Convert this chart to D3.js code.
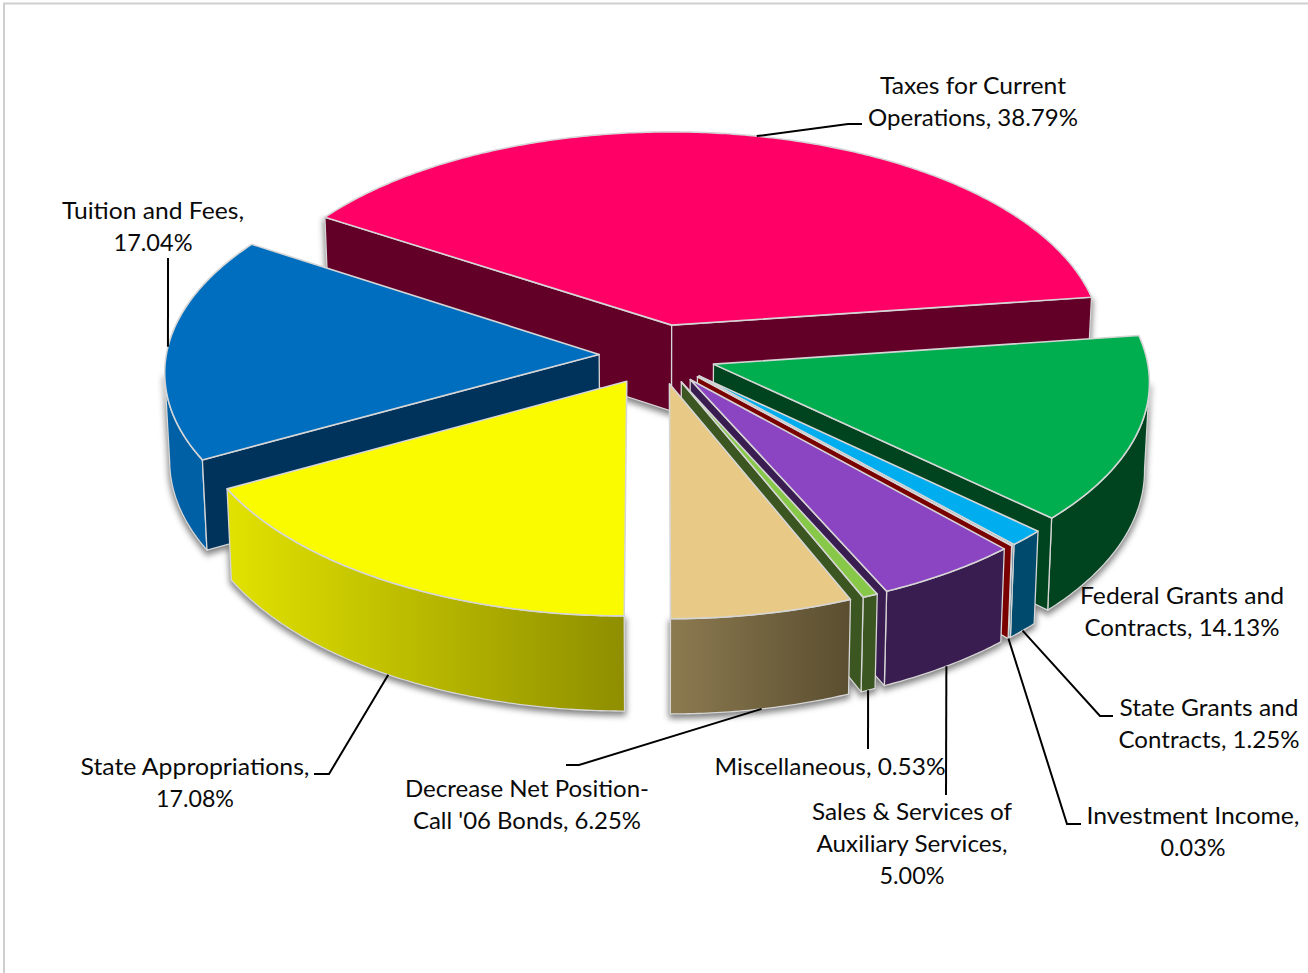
<!DOCTYPE html>
<html>
<head>
<meta charset="utf-8">
<script src="https://cdn.jsdelivr.net/npm/d3@7/dist/d3.min.js"></script>
<style>
  html, body { margin: 0; padding: 0; background: #fff; overflow: hidden; }
  svg { display: block; }
  text { font-family: Lato, "Open Sans", sans-serif; font-size: 24px; fill: #0a0a0a; }
</style>
</head>
<body>
<svg id="chart" width="1308" height="973"></svg>
<script>
// Revenue sources, clockwise from the back-left edge of the pie
const categories = ["Taxes for Current Operations", "Federal Grants and Contracts", "State Grants and Contracts",
  "Investment Income", "Sales & Services of Auxiliary Services", "Miscellaneous",
  "Decrease Net Position-Call '06 Bonds", "State Appropriations", "Tuition and Fees"];
const shares = [38.79, 14.13, 1.25, 0.03, 5.00, 0.53, 6.25, 17.08, 17.04];

const labelLines = [
  ["Taxes for Current", "Operations, 38.79%"],
  ["Federal Grants and", "Contracts, 14.13%"],
  ["State Grants and", "Contracts, 1.25%"],
  ["Investment Income,", "0.03%"],
  ["Sales & Services of", "Auxiliary Services,", "5.00%"],
  ["Miscellaneous, 0.53%"],
  ["Decrease Net Position-", "Call '06 Bonds, 6.25%"],
  ["State Appropriations,", "17.08%"],
  ["Tuition and Fees,", "17.04%"]
];
const labelCentres = [[973, 94], [1182, 604], [1209, 716], [1193, 824], [912, 820], [830, 775], [527, 797], [195, 775], [153, 219]];
const labelWidths = [[186, 210], [204, 195], [179, 181], [213, 65], [200, 191, 65], [231], [244, 228], [229, 78], [182, 79]];

// Leader routes: intermediate bends from the slice edge to its label
const leaderBends = [
  [[848, 124], [862, 124]],
  null,
  [[1100, 716], [1113, 716]],
  [[1067, 824], [1081, 824]],
  [[946, 795]],
  [[868, 749]],
  [[579, 765], [566, 765]],
  [[329, 774], [314, 774]],
  [[168, 258]]
];

const topColors  = ["#FF0066", "#00AE50", "#00AEEF", "#C00000", "#8B44C2", "#88C848", "#E8C985", "#FBFB00", "#006EBE"];
const wallColors = ["#620028", "#00441F", "#004A6E", "#7A0000", "#3A1D50", "#3B5620", "#5A4E30", "#8F8F00", "#00335C"];
const rimColors  = ["#620028", "#00441F", "#004A6E", "#7A0000", "#3A1D50", "#3B5620", null, null, "#0060A6"];
const rimGradients = { 6: ["#8C7A50", "#5A4E30"], 7: ["#E2E200", "#8E8E00"] };
const paintOrder = [0, 8, 1, 2, 3, 4, 5, 6, 7];

// Camera model for the tilted disc; each slice is pulled out along its own middle direction
const centreX = 658, centreY = 355.5, radiusX = 433, radiusY = 212.5;
const perspective = 0.0765, depth = 87, taper = 0.99;
const explodes = [0.148, 0.134, 0.134, 0.134, 0.134, 0.134, 0.134, 0.14, 0.136];

const xScale = d3.scaleLinear().domain([0, 1]).range([0, radiusX]);
const yScale = d3.scaleLinear().domain([0, 1]).range([0, radiusY]);

function project(wx, wy) {
  const s = 1 / (1 - perspective * wy);
  return { x: centreX + xScale(wx) * s, y: centreY + yScale(wy) * s, s };
}
const lower = p => [centreX + (p.x - centreX) * taper, p.y + depth * p.s];
const upper = p => [p.x, p.y];

const TAU = Math.PI * 2;
const firstAngle = -57.3 * Math.PI / 180;
const arcs = d3.pie().sort(null).value(d => d).startAngle(firstAngle).endAngle(firstAngle + TAU)(shares);

const svg = d3.select("#chart");
const defs = svg.append("defs");
defs.append("filter").attr("id", "softShadow")
  .attr("x", "-10%").attr("y", "-10%").attr("width", "120%").attr("height", "120%")
  .append("feGaussianBlur").attr("stdDeviation", 3.2);

Object.entries(rimGradients).forEach(([i, stops]) => {
  const g = defs.append("linearGradient").attr("id", "rim" + i);
  g.append("stop").attr("offset", "0%").attr("stop-color", stops[0]);
  g.append("stop").attr("offset", "100%").attr("stop-color", stops[1]);
});

// Frame around the chart area
svg.append("rect").attr("x", 4).attr("y", 3.5).attr("width", 1400).attr("height", 1100)
  .attr("fill", "#fff").attr("stroke", "#cfcfcf").attr("stroke-width", 2);

const pathOf = d3.line();

// Build the outline of each slice from its pie angles
const slices = arcs.map((a, i) => {
  const mid = (a.startAngle + a.endAngle) / 2;
  const ox = explodes[i] * Math.sin(mid), oy = -explodes[i] * Math.cos(mid);
  const apex = project(ox, oy);
  const steps = Math.max(2, Math.ceil((a.endAngle - a.startAngle) / 0.01));
  const rim = d3.range(steps + 1).map(k => {
    const t = a.startAngle + (a.endAngle - a.startAngle) * k / steps;
    return project(ox + Math.sin(t), oy - Math.cos(t));
  });
  const rimVisible = [];
  let run = [];
  rim.forEach((p, k) => {
    const next = rim[k + 1];
    const prev = rim[k - 1];
    if ((next && next.x < p.x) || (prev && p.x < prev.x)) run.push(p);
    else if (run.length) { rimVisible.push(run); run = []; }
  });
  if (run.length) rimVisible.push(run);
  const faces = [[apex, rim[0]], [rim[steps], apex]].filter(([a0, b0]) => b0.x < a0.x - 4);
  return { i, mid, apex, rim, rimVisible, faces, ox, oy };
});

const quad = (run) => pathOf(run.map(upper).concat(run.slice().reverse().map(lower))) + "Z";
const topShape = s => pathOf([upper(s.apex)].concat(s.rim.map(upper))) + "Z";

// Blurred contact shadow beneath all slices
const shadow = svg.append("g").attr("filter", "url(#softShadow)").attr("transform", "translate(0,3)")
  .attr("fill", "#555").attr("stroke", "#555").attr("stroke-width", 3).attr("opacity", 0.75);
slices.forEach(s => {
  s.rimVisible.forEach(run => shadow.append("path").attr("d", quad(run)));
  s.faces.forEach(f => shadow.append("path").attr("d", quad(f)));
});

// Slices from back to front: rim, radial walls, then the top face
const edge = "#d6d6d6";
paintOrder.forEach(i => {
  const s = slices[i];
  const g = svg.append("g").attr("stroke", edge).attr("stroke-width", 1.3).attr("stroke-linejoin", "round");
  s.rimVisible.forEach(run => {
    g.append("path").attr("d", quad(run))
      .attr("fill", rimGradients[i] ? `url(#rim${i})` : rimColors[i]);
  });
  s.faces.forEach(f => g.append("path").attr("d", quad(f)).attr("fill", wallColors[i]));
  g.append("path").attr("d", topShape(s)).attr("fill", topColors[i]).attr("stroke-width", 1.6);
});

// Leader lines start on the lower rim at each slice's middle direction
const leaderStarts = slices.map(s => {
  const p = project(s.ox + Math.sin(s.mid), s.oy - Math.cos(s.mid));
  return Math.cos(s.mid) < 0 ? lower(p) : upper(p);
});
const leaders = svg.append("g").attr("fill", "none").attr("stroke", "#000").attr("stroke-width", 2);
leaderBends.forEach((bends, i) => {
  if (bends) leaders.append("path").attr("d", pathOf([leaderStarts[i]].concat(bends)));
});

// Labels, one text element per line
labelLines.forEach((lines, i) => {
  lines.forEach((line, k) => {
    svg.append("text").attr("text-anchor", "middle")
      .attr("x", labelCentres[i][0]).attr("y", labelCentres[i][1] + k * 32)
      .attr("textLength", labelWidths[i][k]).attr("lengthAdjust", "spacingAndGlyphs")
      .text(line);
  });
});
</script>
</body>
</html>
